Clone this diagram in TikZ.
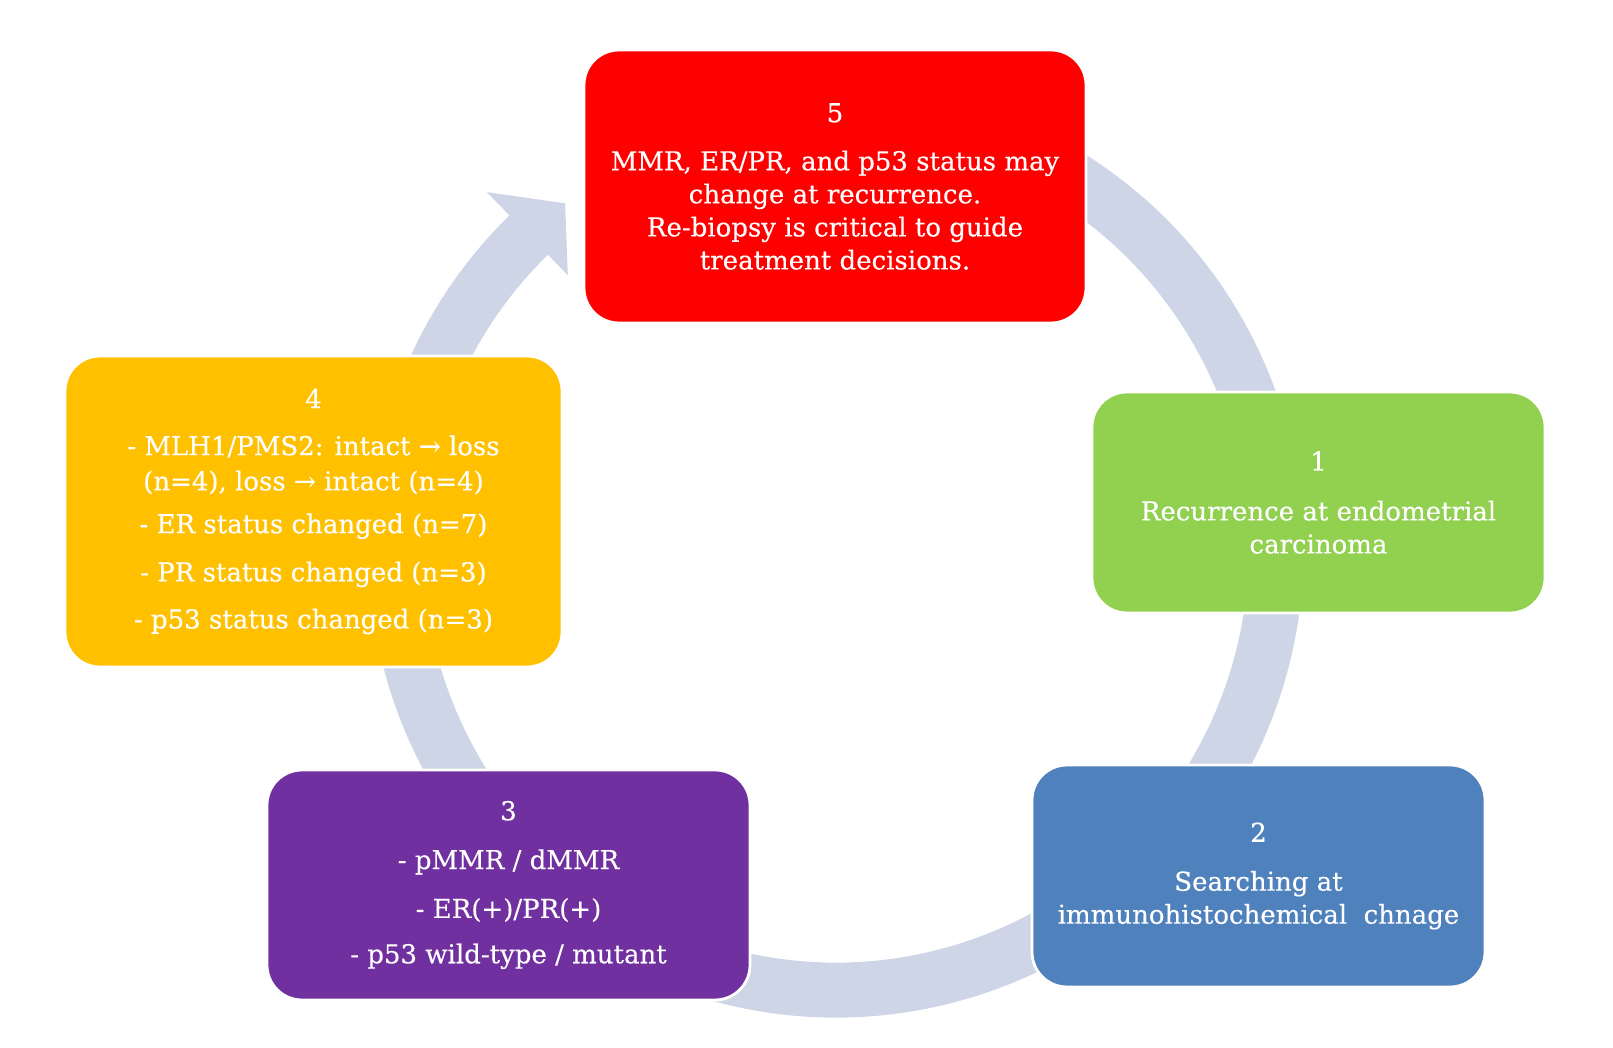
\documentclass[tikz,border=0pt]{standalone}
\usepackage{fontspec}
\setmainfont{DejaVu Serif}[BoldFont=DejaVu Serif, BoldFeatures={FakeBold=0.3}]
\usepackage{tikz}
\usetikzlibrary{positioning, calc}

\definecolor{ringblue}{RGB}{205,213,230}
\definecolor{stagered}{RGB}{255,0,0}
\definecolor{stageyellow}{RGB}{255,192,0}
\definecolor{stagegreen}{RGB}{146,208,80}
\definecolor{stageblue}{RGB}{79,129,189}
\definecolor{stagepurple}{RGB}{112,48,160}

\begin{document}
\begin{tikzpicture}[
        stage/.style={rectangle, rounded corners=0.35cm, draw=white, line width=0.8pt,
            text=white, align=center, inner sep=0pt,
            font=\fontsize{7.4}{9.4}\selectfont\bfseries}
    ]
                \useasboundingbox (0,0) rectangle (16.13,10.47);
                
                % Кольцо
                \coordinate (c) at (8.36,4.97);
                \draw[ringblue, line width=0.55cm] ($(c)+(70:4.4)$) arc[start angle=70, end angle=-227, radius=4.4];
                
                % Наконечник
                \fill[ringblue] ($(c)+(134.3:3.84)$) -- ($(c)+(128:4.4)$) -- ($(c)+(134.3:5.0)$) -- cycle;
                
                % Этапы
                \node[stage, fill=stagered, minimum width=5.02cm, minimum height=2.73cm] (s5) at (8.35,8.605)
                    {5\\[4.3pt] MMR, ER/PR, and p53 status may\\ change at recurrence.\\ Re-biopsy is critical to guide\\ treatment decisions.};
                \node[stage, fill=stagegreen, minimum width=4.53cm, minimum height=2.21cm] (s1) at (13.185,5.445)
                    {1\\[4.8pt] Recurrence at endometrial\\ carcinoma};
                \node[stage, fill=stageblue, minimum width=4.53cm, minimum height=2.22cm] (s2) at (12.585,1.71)
                    {2\\[4.5pt] Searching at\\ immunohistochemical\ \ chnage};
                \node[stage, fill=stagepurple, minimum width=4.83cm, minimum height=2.30cm] (s3) at (5.085,1.62)
                    {3\\[4.5pt] - pMMR / dMMR\\[4.5pt] - ER(+)/PR(+)\\[3.5pt] - p53 wild-type / mutant};
                \node[stage, fill=stageyellow, minimum width=4.97cm, minimum height=3.11cm] (s4) at (3.135,5.355)
                    {4\\[4pt] - MLH1/PMS2: intact → loss\\[0.6pt] (n=4), loss → intact (n=4)\\[2.8pt] - ER status changed (n=7)\\[4.3pt] - PR status changed (n=3)\\[4pt] - p53 status changed (n=3)};
            \end{tikzpicture}
\end{document}
